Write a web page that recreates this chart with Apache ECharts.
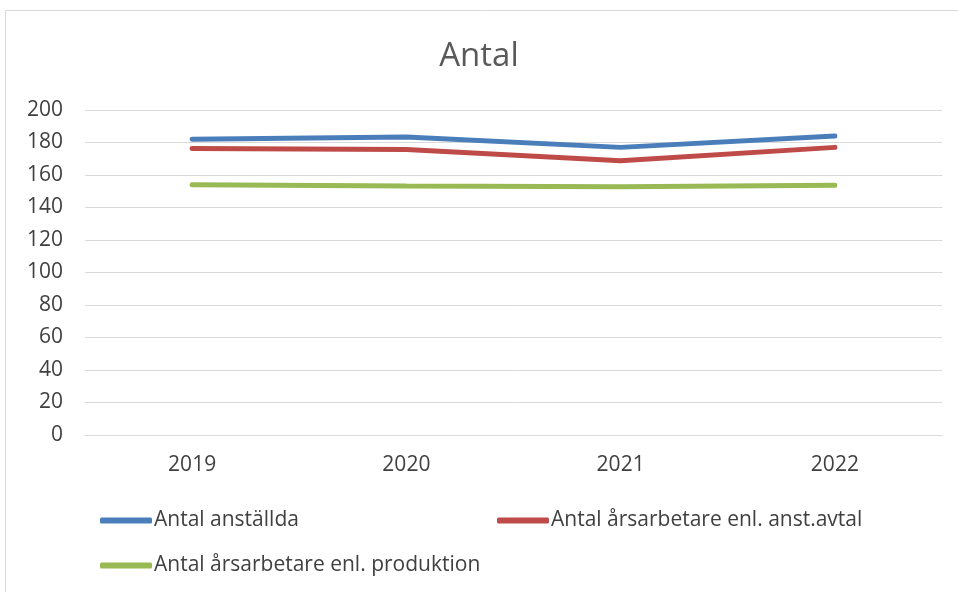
<!DOCTYPE html>
<html><head><meta charset="utf-8">
<script src="https://cdn.jsdelivr.net/npm/echarts@6/dist/echarts.min.js"></script>
<style>html,body{margin:0;padding:0;background:#fff}#c{width:958px;height:592px}</style>
</head><body><div id="c"></div>
<script>
const years = ['2019', '2020', '2021', '2022'];
const anstallda = [182, 183.4, 177, 184];
const arsAvtal = [176.3, 175.7, 168.7, 177];
const arsProd = [154, 153.2, 152.8, 153.7];
const names = ['Antal anställda', 'Antal årsarbetare enl. anst.avtal', 'Antal årsarbetare enl. produktion'];
const colors = ['#4a7ebb', '#be4b48', '#98b954'];
const FONT = 'Open Sans';
const chart = echarts.init(document.getElementById('c'));
const legendBase = {
  icon: 'roundRect', itemWidth: 52, itemHeight: 6, itemGap: 0, padding: 0,
  textStyle: { color: '#404040', fontSize: 21, fontFamily: FONT, padding: [0, 0, 0, -3] },
  orient: 'horizontal'
};
chart.setOption({
  animation: false,
  textStyle: { fontFamily: FONT },
  graphic: [{ type: 'rect', shape: { x: 5.5, y: 10.5, width: 1000, height: 700 }, style: { fill: 'none', stroke: '#d9d9d9', lineWidth: 1 } }],
  title: { text: 'Antal', left: 'center', top: 35, textStyle: { color: '#595959', fontSize: 33, fontWeight: 'normal', fontFamily: FONT } },
  legend: [
    Object.assign({}, legendBase, { data: [names[0]], left: 100, top: 510 }),
    Object.assign({}, legendBase, { data: [names[1]], left: 497, top: 510 }),
    Object.assign({}, legendBase, { data: [names[2]], left: 100, top: 555 })
  ],
  grid: { left: 85, right: 16, top: 110, bottom: 157 },
  xAxis: {
    type: 'category', data: years, boundaryGap: true,
    axisLine: { lineStyle: { color: '#d9d9d9', width: 1 } },
    axisTick: { show: false },
    axisLabel: { color: '#404040', fontSize: 21, margin: 20, fontFamily: FONT }
  },
  yAxis: {
    type: 'value', min: 0, max: 200, interval: 20,
    axisLine: { show: false }, axisTick: { show: false },
    splitLine: { lineStyle: { color: '#d9d9d9', width: 1 } },
    axisLabel: { color: '#404040', fontSize: 21, margin: 22, fontFamily: FONT }
  },
  series: [
    { name: names[0], type: 'line', data: anstallda, symbol: 'none', lineStyle: { width: 5, color: colors[0], cap: 'round' }, itemStyle: { color: colors[0] } },
    { name: names[1], type: 'line', data: arsAvtal, symbol: 'none', lineStyle: { width: 5, color: colors[1], cap: 'round' }, itemStyle: { color: colors[1] } },
    { name: names[2], type: 'line', data: arsProd, symbol: 'none', lineStyle: { width: 5, color: colors[2], cap: 'round' }, itemStyle: { color: colors[2] } }
  ]
});
</script></body></html>
